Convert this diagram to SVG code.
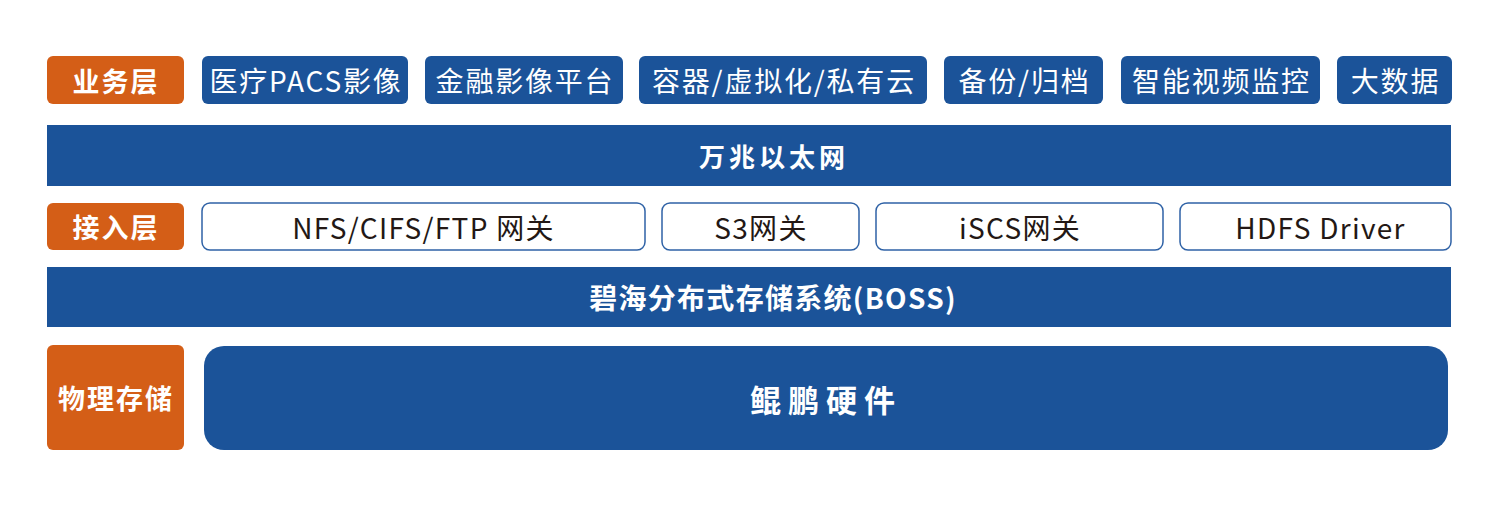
<svg xmlns="http://www.w3.org/2000/svg" width="1501" height="521" viewBox="0 0 1501 521">
<style>
text{font-family:"Noto Sans CJK SC","Noto Sans",sans-serif;text-anchor:middle;dominant-baseline:central}
.or{fill:#D45E17}
.bl{fill:#1B5399}
.wb{fill:#FFFFFF;stroke:#2F62A6;stroke-width:1.5}
.lab{fill:#FFFFFF;font-weight:bold;font-size:27px;letter-spacing:2px}
.biz{fill:#FFFFFF;font-size:28px;letter-spacing:1.8px}
.acc{fill:#231815;font-size:28px;letter-spacing:1.3px}
.bar{fill:#FFFFFF;font-weight:bold;font-size:26px}
</style>
<rect width="1501" height="521" fill="#FFFFFF"/>
<g id="layer-business">
<g id="lbl-business"><rect class="or" x="47" y="56" width="137" height="48" rx="6"/><text class="lab" x="116" y="80">业务层</text></g>
<g id="biz-pacs"><rect class="bl" x="202" y="56" width="206" height="48" rx="6"/><text class="biz" x="306" y="80">医疗PACS影像</text></g>
<g id="biz-finance"><rect class="bl" x="425" y="56" width="198" height="48" rx="6"/><text class="biz" x="525" y="80">金融影像平台</text></g>
<g id="biz-container"><rect class="bl" x="639" y="56" width="288" height="48" rx="6"/><text class="biz" x="784" y="80">容器/虚拟化/私有云</text></g>
<g id="biz-backup"><rect class="bl" x="944" y="56" width="159" height="48" rx="6"/><text class="biz" x="1024.5" y="80">备份/归档</text></g>
<g id="biz-video"><rect class="bl" x="1121" y="56" width="199" height="48" rx="6"/><text class="biz" x="1221.5" y="80">智能视频监控</text></g>
<g id="biz-bigdata"><rect class="bl" x="1337" y="56" width="115" height="48" rx="6"/><text class="biz" x="1395.5" y="80">大数据</text></g>
</g>
<g id="bar-ethernet"><rect class="bl" x="47" y="125" width="1404" height="61"/><text class="bar" x="774" y="155.5" style="letter-spacing:4px">万兆以太网</text></g>
<g id="layer-access">
<g id="lbl-access"><rect class="or" x="47" y="203" width="137" height="47" rx="6"/><text class="lab" x="116" y="226.5">接入层</text></g>
<g id="acc-nfs"><rect class="wb" x="202" y="203" width="443" height="47" rx="8"/><text class="acc" x="423.5" y="226.5">NFS/CIFS/FTP 网关</text></g>
<g id="acc-s3"><rect class="wb" x="662" y="203" width="197" height="47" rx="8"/><text class="acc" x="761" y="226.5">S3网关</text></g>
<g id="acc-iscs"><rect class="wb" x="876" y="203" width="287" height="47" rx="8"/><text class="acc" x="1020" y="226.5">iSCS网关</text></g>
<g id="acc-hdfs"><rect class="wb" x="1180" y="203" width="271" height="47" rx="8"/><text class="acc" x="1320.5" y="226.5">HDFS Driver</text></g>
</g>
<g id="bar-boss"><rect class="bl" x="47" y="267" width="1404" height="60"/><text class="bar" x="773" y="297" style="font-size:28px;letter-spacing:1.3px">碧海分布式存储系统(BOSS)</text></g>
<g id="layer-physical">
<g id="lbl-physical"><rect class="or" x="47" y="345" width="137" height="105" rx="6"/><text class="lab" x="116" y="397.5">物理存储</text></g>
<g id="hw-kunpeng"><rect class="bl" x="204" y="346" width="1244" height="104" rx="20"/><text class="bar" x="826" y="398" style="font-size:31px;letter-spacing:7px">鲲鹏硬件</text></g>
</g>
<g id="connectors"/>
</svg>
